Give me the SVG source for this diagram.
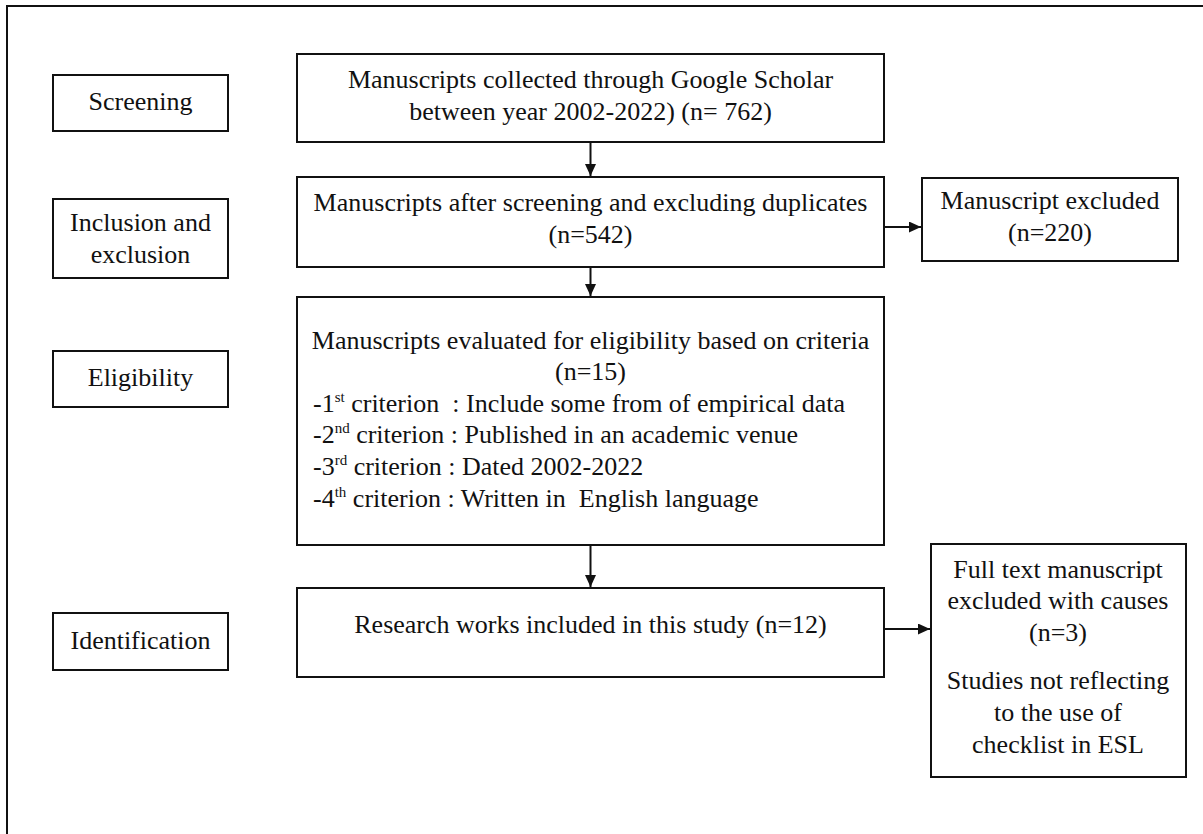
<svg xmlns="http://www.w3.org/2000/svg" width="1203" height="834" viewBox="0 0 1203 834">
<style>
.box{fill:#fff;stroke:#111;stroke-width:2}
.t{font-family:"Liberation Serif","Times New Roman",serif;font-size:26px;fill:#111}
.c{text-anchor:middle}
.pre{white-space:pre}
.sup{font-size:15px}
.con{stroke:#111;stroke-width:2;fill:none}
</style>
<defs>
<marker id="ah" viewBox="0 0 12 11" refX="12" refY="5.5" markerWidth="12" markerHeight="11" markerUnits="userSpaceOnUse" orient="auto">
<path d="M0,0 L12,5.5 L0,11 Z" fill="#111"/>
</marker>
</defs>
<rect width="1203" height="834" fill="#fff"/>
<g id="frame"><path d="M7,834 V6 H1203" class="con"/></g>
<g id="screening"><rect class="box" x="53" y="75" width="175" height="56"/><text class="t c" x="140.5" y="110">Screening</text></g>
<g id="inclusion"><rect class="box" x="53" y="199" width="175" height="79"/><text class="t c" x="140.5" y="231">Inclusion and</text><text class="t c" x="140.5" y="263">exclusion</text></g>
<g id="eligibility"><rect class="box" x="53" y="351" width="175" height="56"/><text class="t c" x="140.5" y="386">Eligibility</text></g>
<g id="identification"><rect class="box" x="53" y="613" width="175" height="57"/><text class="t c" x="140.5" y="649">Identification</text></g>
<g id="collected"><rect class="box" x="297" y="54" width="587" height="88"/><text class="t c" x="590.5" y="88">Manuscripts collected through Google Scholar</text><text class="t c" x="590.5" y="120">between year 2002-2022) (n= 762)</text></g>
<g id="after-screening"><rect class="box" x="297" y="177" width="587" height="90"/><text class="t c" x="590.5" y="211">Manuscripts after screening and excluding duplicates</text><text class="t c" x="590.5" y="243">(n=542)</text></g>
<g id="excluded"><rect class="box" x="922" y="178" width="256" height="83"/><text class="t c" x="1050" y="209">Manuscript excluded</text><text class="t c" x="1050" y="241">(n=220)</text></g>
<g id="evaluated"><rect class="box" x="297" y="297" width="587" height="248"/>
<text class="t c" x="590.5" y="349">Manuscripts evaluated for eligibility based on criteria</text>
<text class="t c" x="590.5" y="380">(n=15)</text>
<text class="t pre" x="313" y="412">-1<tspan class="sup" dy="-10">st</tspan><tspan dy="10"> criterion  : Include some from of empirical data</tspan></text>
<text class="t pre" x="313" y="443">-2<tspan class="sup" dy="-10">nd</tspan><tspan dy="10"> criterion : Published in an academic venue</tspan></text>
<text class="t pre" x="313" y="475">-3<tspan class="sup" dy="-10">rd</tspan><tspan dy="10"> criterion : Dated 2002-2022</tspan></text>
<text class="t pre" x="313" y="507">-4<tspan class="sup" dy="-10">th</tspan><tspan dy="10"> criterion : Written in  English language</tspan></text>
</g>
<g id="included"><rect class="box" x="297" y="588" width="587" height="89"/><text class="t c" x="590.5" y="633">Research works included in this study (n=12)</text></g>
<g id="fulltext-excluded"><rect class="box" x="931" y="544" width="255" height="233"/>
<text class="t c" x="1058" y="578">Full text manuscript</text>
<text class="t c" x="1058" y="609">excluded with causes</text>
<text class="t c" x="1058" y="641">(n=3)</text>
<text class="t c" x="1058" y="689">Studies not reflecting</text>
<text class="t c" x="1058" y="721">to the use of</text>
<text class="t c" x="1058" y="753">checklist in ESL</text>
</g>
<g id="connectors">
<line class="con" x1="590.5" y1="142" x2="590.5" y2="176" marker-end="url(#ah)"/>
<line class="con" x1="590.5" y1="267" x2="590.5" y2="296" marker-end="url(#ah)"/>
<line class="con" x1="590.5" y1="545" x2="590.5" y2="587" marker-end="url(#ah)"/>
<line class="con" x1="884" y1="227" x2="921" y2="227" marker-end="url(#ah)"/>
<line class="con" x1="884" y1="629" x2="930" y2="629" marker-end="url(#ah)"/>
</g>
</svg>
